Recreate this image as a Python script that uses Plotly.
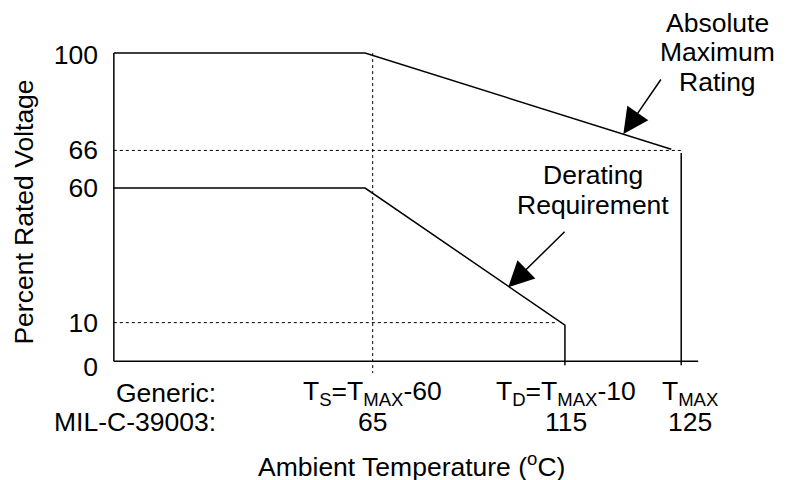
import plotly.graph_objects as go

# schematic chart: positions are in drawing units (x 0-100, y 0-100), labels carry the real values
y_tick_pos = [-1.9, 12.5, 56.2, 68.6, 99.5]
y_tick_text = ["0", "10", "60", "66", "100"]

# x positions of the marked temperatures
x_ts = 44.3
x_td = 77.2
x_tmax = 97.1
x_knee = 43.0

generic_labels = ["T<sub>S</sub>=T<sub>MAX</sub>-60", "T<sub>D</sub>=T<sub>MAX</sub>-10", "T<sub>MAX</sub>"]
mil_labels = ["65", "115", "125"]
label_x = [x_ts, x_td + 0.2, 98.6]

# absolute maximum rating curve
abs_x = [0, x_knee, 95.4]
abs_y = [100, 100, 68.8]
abs_drop_x = [x_tmax, x_tmax]
abs_drop_y = [67.6, -1.3]

# derating requirement curve
der_x = [0, x_knee, x_td, x_td]
der_y = [56.2, 56.2, 11.7, -1.3]

# dotted guide lines
g66_x = [0, x_tmax]
g66_y = [68.4, 68.4]
g10_x = [0, 75.5]
g10_y = [12.5, 12.5]
gts_x = [x_ts, x_ts]
gts_y = [100, -3.9]

X_RANGE = [-1, 101]
Y_RANGE = [-4.5, 101]
FONT = "Liberation Sans, Arial, sans-serif"
FSIZE = 26.5
solid = dict(color="black", width=1.5)
dotted = dict(color="black", width=1, dash="dot")


def px(x):
    # data x -> paper x (works outside the axis range too)
    return (x - X_RANGE[0]) / (X_RANGE[1] - X_RANGE[0])


def py(y):
    return (y - Y_RANGE[0]) / (Y_RANGE[1] - Y_RANGE[0])


fig = go.Figure()
for xs, ys, ln in [
    (g66_x, g66_y, dotted),
    (g10_x, g10_y, dotted),
    (gts_x, gts_y, dotted),
    (abs_x, abs_y, solid),
    (abs_drop_x, abs_drop_y, solid),
    (der_x, der_y, solid),
]:
    fig.add_trace(go.Scatter(x=xs, y=ys, mode="lines", line=ln,
                             hoverinfo="skip", showlegend=False))

# axis frame (left and bottom only)
fig.add_shape(type="line", x0=0, y0=0, x1=0, y1=100, xref="x", yref="y", line=solid)
fig.add_shape(type="line", x0=0, y0=0, x1=100, y1=0, xref="x", yref="y", line=solid)

ann = []
# x category labels, two rows
ann.append(dict(x=17.8, y=-10.2, text="Generic:", xanchor="right"))
ann.append(dict(x=17.8, y=-19.6, text="MIL-C-39003:", xanchor="right"))
for lx, g, m in zip(label_x, generic_labels, mil_labels):
    ann.append(dict(x=lx, y=-10.2, text=g, xanchor="center"))
    ann.append(dict(x=lx, y=-19.6, text=m, xanchor="center"))

# curve labels, one annotation per line to keep the tight line spacing
for txt, yy in zip(["Absolute", "Maximum", "Rating"], [109.9, 100.2, 90.6]):
    ann.append(dict(x=103.3, y=yy, text=txt, xanchor="center"))
for txt, yy in zip(["Derating", "Requirement"], [60.4, 50.7]):
    ann.append(dict(x=82.0, y=yy, text=txt, xanchor="center"))

# axis titles
ann.append(dict(x=-15.4, y=48.5, text="Percent Rated Voltage", xanchor="center", textangle=-90))
ann.append(dict(x=51.0, y=-33.8, text="Ambient Temperature (<sup>o</sup>C)", xanchor="center"))

for a in ann:
    a.update(x=px(a["x"]), y=py(a["y"]), xref="paper", yref="paper",
             showarrow=False, yanchor="middle",
             font=dict(family=FONT, size=FSIZE, color="black"))
    fig.add_annotation(**a)

# arrows pointing at the curves
for tip, tail in [((87.2, 73.7), (93.8, 91.9)), ((67.5, 24.0), (77.4, 42.5))]:
    fig.add_annotation(x=tip[0], y=tip[1], ax=tail[0], ay=tail[1],
                       xref="x", yref="y", axref="x", ayref="y", text="",
                       showarrow=True, arrowhead=2, arrowsize=3.4,
                       arrowwidth=1.5, arrowcolor="black")

# page body has an 8px margin, so the figure is 8px smaller than the window
fig.update_layout(
    width=780, height=472,
    margin=dict(l=100, r=84, t=42, b=105),
    plot_bgcolor="white", paper_bgcolor="white",
    font=dict(family=FONT, size=FSIZE, color="black"),
)
fig.update_xaxes(range=X_RANGE, showgrid=False, zeroline=False,
                 showticklabels=False, showline=False, automargin=False)
fig.update_yaxes(range=Y_RANGE, showgrid=False, zeroline=False, showline=False,
                 automargin=False, tickmode="array", tickvals=y_tick_pos,
                 ticktext=y_tick_text, ticks="", ticklabelstandoff=9,
                 tickfont=dict(family=FONT, size=FSIZE, color="black"))

fig.write_html("out.html")
